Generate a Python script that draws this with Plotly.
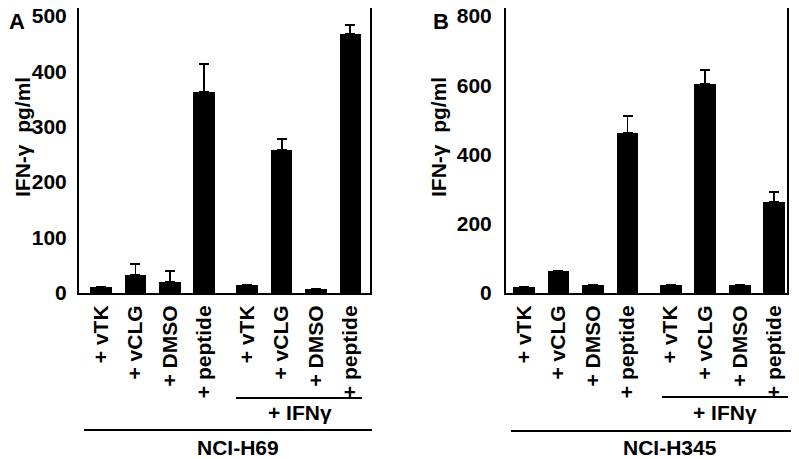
import plotly.graph_objects as go

# Tratamientos (mismos en ambos paneles)
tratamientos = ['+ vTK', '+ vCLG', '+ DMSO', '+ peptide',
                '+ vTK', '+ vCLG', '+ DMSO', '+ peptide']

# Panel A - NCI-H69 (IFN-γ pg/ml)
valores_a = [11, 32, 20, 362, 14, 258, 7, 468]
error_a = [None, 20, 19, 51, None, 20, None, 15]

# Panel B - NCI-H345 (IFN-γ pg/ml)
valores_b = [17, 63, 23, 463, 23, 603, 23, 263]
error_b = [None, None, None, 48, None, 40, None, 28]

# la página tiene 8 px de margen en el body -> compensar
OFF = 8
W, H = 799 - OFF, 459 - OFF
FUENTE = dict(family='Liberation Sans, Arial', size=21, color='black', weight='bold')

# posiciones: 4 barras, hueco, 4 barras (+ IFNγ)
xpos = [i + (0.25 if i >= 4 else 0) for i in range(len(tratamientos))]


def px(x):
    return (x - OFF) / W


def py(y):
    return min(1, 1 - (y - OFF) / H)


fig = go.Figure()

for valores, errores, ejes in [(valores_a, error_a, ('x', 'y')),
                               (valores_b, error_b, ('x2', 'y2'))]:
    fig.add_trace(go.Bar(
        x=xpos,
        y=valores,
        width=0.63,
        marker=dict(color='black', line=dict(width=0)),
        error_y=dict(type='data', array=errores, symmetric=False,
                     arrayminus=[0] * len(valores),
                     color='black', thickness=1.8, width=5),
        xaxis=ejes[0],
        yaxis=ejes[1],
        showlegend=False,
    ))

eje_comun = dict(showline=True, mirror=True, linecolor='black', linewidth=2,
                 showgrid=False, zeroline=False, ticks='', automargin=False,
                 ticklabeloverflow='allow', tickfont=FUENTE)

fig.update_layout(
    template='none',
    width=W, height=H,
    margin=dict(l=0, r=0, t=0, b=0),
    paper_bgcolor='white',
    plot_bgcolor='white',
    bargap=0,
    xaxis=dict(eje_comun, domain=[px(79), px(370)], range=[-0.64, 7.82],
               tickvals=xpos, ticktext=tratamientos, tickangle=-90,
               ticklabelstandoff=2, anchor='y'),
    yaxis=dict(eje_comun, domain=[py(293), py(8)], range=[0, 514],
               dtick=100, ticklabelstandoff=6, anchor='x'),
    xaxis2=dict(eje_comun, domain=[px(506), px(787)], range=[-0.52, 7.62],
                tickvals=xpos, ticktext=tratamientos, tickangle=-90,
                ticklabelstandoff=2, anchor='y2'),
    yaxis2=dict(eje_comun, domain=[py(293), py(8)], range=[0, 823],
                dtick=200, ticklabelstandoff=8, anchor='x2'),
)

# Títulos de eje y etiquetas de grupo
textos = [
    ('IFN-γ  pg/ml', 22, 137, -90),
    ('IFN-γ  pg/ml', 438, 137, -90),
    ('+ IFNγ', 300, 412, 0),
    ('+ IFNγ', 725, 412, 0),
    ('NCI-H69', 238, 447, 0),
    ('NCI-H345', 670, 447, 0),
]
for texto, x, y, ang in textos:
    fig.add_annotation(text=texto, x=px(x), y=py(y), xref='paper', yref='paper',
                       showarrow=False, textangle=ang, xanchor='center', yanchor='middle',
                       font=FUENTE)

# letras de panel
fig.add_annotation(text='A', x=0, y=1, xref='paper', yref='paper', showarrow=False,
                   xanchor='left', yanchor='top', borderpad=0,
                   font=dict(FUENTE, size=22))
fig.add_annotation(text='B', x=px(432), y=1, xref='paper', yref='paper', showarrow=False,
                   xanchor='left', yanchor='top', borderpad=0,
                   font=dict(FUENTE, size=22))

lineas = [(236, 362, 398), (662, 788, 397), (84, 372, 430), (511, 798, 431)]
for x0, x1, y in lineas:
    fig.add_shape(type='line', xref='paper', yref='paper',
                  x0=px(x0), x1=px(x1), y0=py(y), y1=py(y),
                  line=dict(color='black', width=2))

fig.write_html("out.html")
